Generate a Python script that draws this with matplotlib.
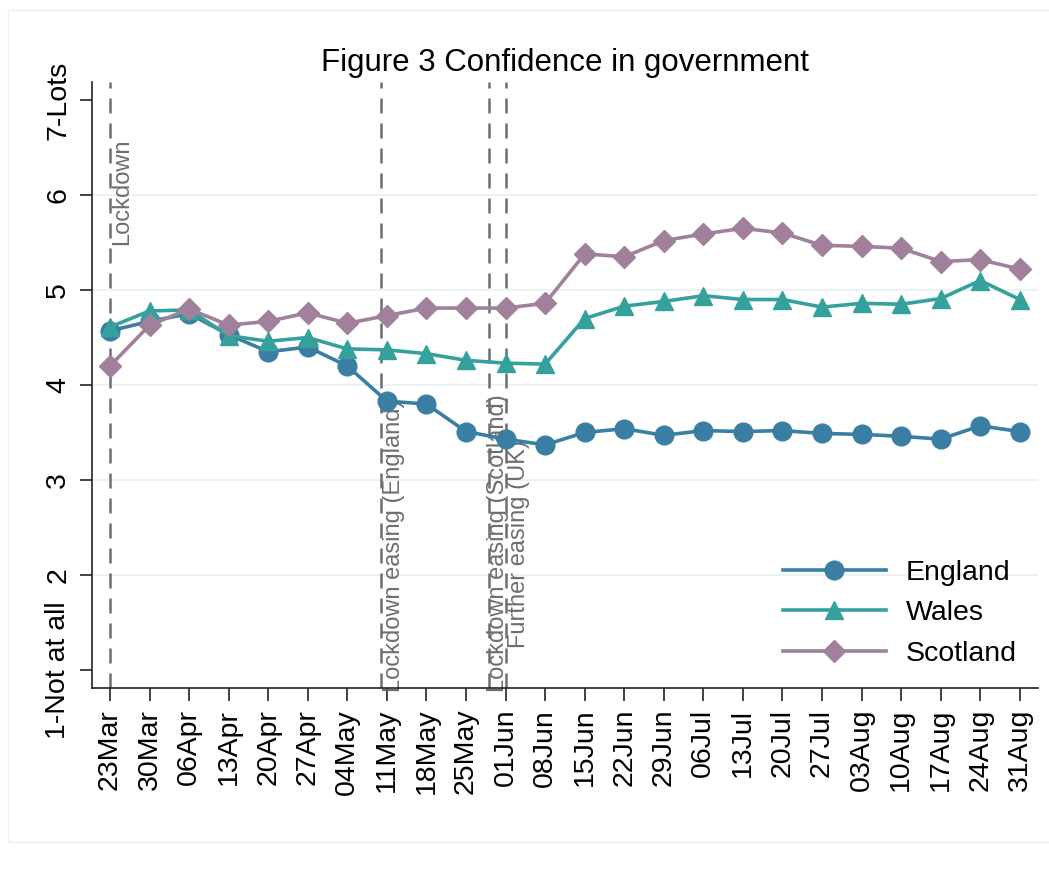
import matplotlib
matplotlib.use("Agg")
import matplotlib.pyplot as plt
from matplotlib.patches import Rectangle
import numpy as np

plt.rcParams['font.family'] = ['Liberation Sans', 'DejaVu Sans']

weeks = ["23Mar", "30Mar", "06Apr", "13Apr", "20Apr", "27Apr", "04May", "11May",
         "18May", "25May", "01Jun", "08Jun", "15Jun", "22Jun", "29Jun", "06Jul",
         "13Jul", "20Jul", "27Jul", "03Aug", "10Aug", "17Aug", "24Aug", "31Aug"]

england = [4.57, 4.67, 4.75, 4.53, 4.35, 4.40, 4.20, 3.83, 3.80, 3.51, 3.43, 3.37,
           3.50, 3.54, 3.47, 3.52, 3.51, 3.52, 3.49, 3.48, 3.46, 3.43, 3.57, 3.51]
wales = [4.61, 4.78, 4.79, 4.52, 4.46, 4.50, 4.38, 4.37, 4.33, 4.26, 4.23, 4.22,
         4.70, 4.83, 4.88, 4.94, 4.90, 4.90, 4.82, 4.86, 4.85, 4.91, 5.10, 4.90]
scotland = [4.20, 4.63, 4.80, 4.63, 4.67, 4.76, 4.65, 4.73, 4.81, 4.81, 4.81, 4.86,
            5.38, 5.35, 5.52, 5.59, 5.65, 5.60, 5.47, 5.46, 5.44, 5.30, 5.32, 5.22]

# events: (position in weeks from 23Mar, label, text y centre)
event_pos = [0.0, 48 / 7, 67 / 7, 10.0]
event_labels = ["Lockdown", "Lockdown easing (England)",
                "Lockdown easing (Scotland)", "Further easing (UK)"]
event_text_y = [6.03, 2.31, 2.33, 2.33]
event_text_dx = [1, 1, -1.5, 1.5]

ytick_vals = [1, 2, 3, 4, 5, 6, 7]
ytick_labels = ["1-Not at all", "2", "3", "4", "5", "6", "7-Lots"]

c_eng = "#3a7fa3"
c_wal = "#35a19d"
c_sco = "#a0809a"

fig = plt.figure(figsize=(10.49, 8.74), dpi=100)
fig.patches.append(Rectangle((8 / 1049, 1 - 842 / 874), 1.2, (842 - 10) / 874,
                             transform=fig.transFigure, fill=False,
                             edgecolor="#f0f0f0", linewidth=1.0, zorder=0))
ax = fig.add_axes([92 / 1049, 1 - 688 / 874, (1038 - 92) / 1049, (688 - 82) / 874])

x = np.arange(len(weeks))

for yv in [2, 3, 4, 5, 6]:
    ax.axhline(yv, color="#eaf2f3", linewidth=1.5, zorder=0)

for xp in event_pos:
    ax.axvline(xp, color="#6e6e6e", linestyle=(0, (6, 4)), linewidth=1.8, zorder=1)

ax.plot(x, england, color=c_eng, marker="o", markersize=13.5, linewidth=2.6,
        label="England", zorder=3)
ax.plot(x, wales, color=c_wal, marker="^", markersize=13, linewidth=2.6,
        label="Wales", zorder=3)
ax.plot(x, scotland, color=c_sco, marker="D", markersize=11, linewidth=2.6,
        label="Scotland", zorder=3)

for xp, lab, ty, dx in zip(event_pos, event_labels, event_text_y, event_text_dx):
    ax.annotate(lab, xy=(xp, ty), xytext=(dx, 0), textcoords="offset points",
                rotation=90, ha="left", va="center", fontsize=17, color="#6e6e6e",
                zorder=2)

ax.set_xlim(-0.455, 23.46)
ax.set_ylim(0.81, 7.19)
ax.set_xticks(x)
ax.set_xticklabels(weeks, rotation=90, fontsize=20.5)
ax.set_yticks(ytick_vals)
ax.set_yticklabels(ytick_labels, rotation=90, va="center", fontsize=20.5)
ax.tick_params(axis="both", direction="out", length=9, width=1.2, color="#222222")
ax.tick_params(axis="x", pad=6)
ax.tick_params(axis="y", pad=6)

for s in ["top", "right"]:
    ax.spines[s].set_visible(False)
for s in ["left", "bottom"]:
    ax.spines[s].set_linewidth(1.2)
    ax.spines[s].set_color("#222222")

ax.set_title("Figure 3 Confidence in government", fontsize=22.5, pad=8)

leg = ax.legend(loc="lower right", bbox_to_anchor=(1.0, 0.0), frameon=False,
                fontsize=20.5, handlelength=3.6, handletextpad=0.7,
                labelspacing=0.5, borderaxespad=0.35)

fig.savefig("out.png", dpi=100, facecolor="white")
